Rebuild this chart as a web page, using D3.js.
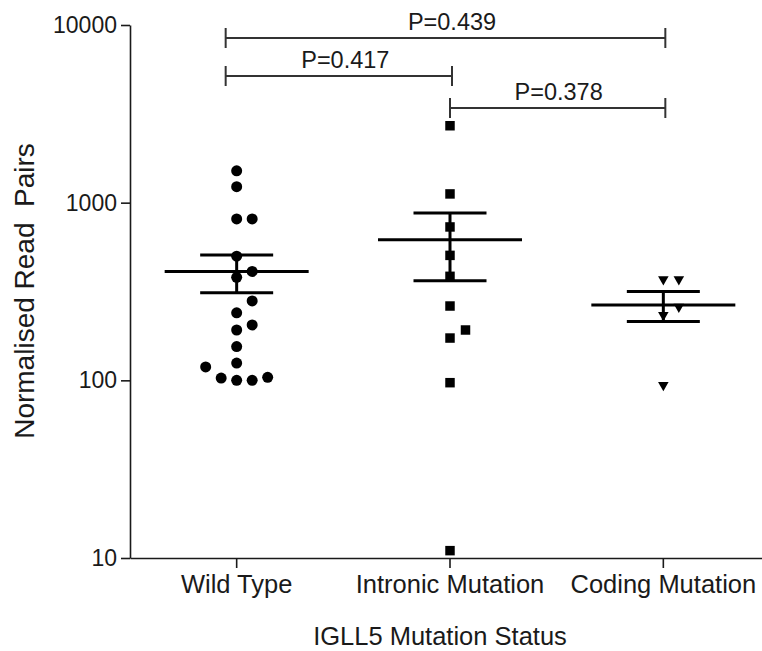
<!DOCTYPE html>
<html><head><meta charset="utf-8">
<script src="https://cdn.jsdelivr.net/npm/d3@7"></script>
<style>
html,body{margin:0;padding:0;background:#fff;}
svg{display:block;font-family:"Liberation Sans",Arial,Helvetica,sans-serif;}
</style></head><body>
<svg id="chart" width="762" height="651"></svg>
<script>
// ---- data ----
const categories = ["Wild Type", "Intronic Mutation", "Coding Mutation"];
const wildTypeValues = [1510, 1230, 810, 810, 500, 410, 380, 280, 240, 205, 192, 155, 125, 119, 103, 100, 100, 104];
const intronicValues = [2710, 1120, 730, 505, 385, 262, 192, 173, 97, 11];
const codingValues = [370, 370, 259, 233, 94];
const yTickValues = [10, 100, 1000, 10000];
const comparisonFrom = ["Wild Type", "Wild Type", "Intronic Mutation"];
const comparisonTo = ["Coding Mutation", "Intronic Mutation", "Coding Mutation"];
const comparisonLabels = ["P=0.439", "P=0.417", "P=0.378"];
const xTitle = "IGLL5 Mutation Status";
const yTitle = "Normalised Read  Pairs";

// ---- layout ----
const svg = d3.select("#chart");
const x = d3.scaleBand().domain(categories).range([130, 770]).padding(0);
const y = d3.scaleLog().domain([10, 10000]).range([558, 25]);
const cx = c => x(c) + x.bandwidth() / 2;

const series = [
  {cat: categories[0], values: wildTypeValues, symbol: d3.symbolCircle, size: 95, rot: 0},
  {cat: categories[1], values: intronicValues, symbol: d3.symbolSquare, size: 90, rot: 0},
  {cat: categories[2], values: codingValues, symbol: d3.symbolTriangle, size: 48, rot: 180}
];

// axes
const yAxis = svg.append("g").attr("transform", "translate(130,0)")
  .call(d3.axisLeft(y).tickValues(yTickValues).tickFormat(d3.format("d")).tickSize(9).tickSizeOuter(0).tickPadding(4));
yAxis.select(".domain").attr("stroke", "#1a1a1a").attr("stroke-width", 1.6);
yAxis.selectAll(".tick line").attr("stroke", "#1a1a1a").attr("stroke-width", 1.6);
yAxis.selectAll(".tick text").attr("font-size", 23).attr("fill", "#1a1a1a").attr("font-family", "Liberation Sans, Arial, sans-serif");

const xAxis = svg.append("g").attr("transform", "translate(0,558)")
  .call(d3.axisBottom(x).tickSize(10).tickSizeOuter(0).tickPadding(7));
xAxis.select(".domain").attr("stroke", "#1a1a1a").attr("stroke-width", 1.6);
xAxis.selectAll(".tick line").attr("stroke", "#1a1a1a").attr("stroke-width", 1.6);
xAxis.selectAll(".tick text").attr("font-size", 25.5).attr("fill", "#1a1a1a").attr("font-family", "Liberation Sans, Arial, sans-serif");

// titles
svg.append("text").attr("x", 440).attr("y", 645).attr("text-anchor", "middle")
  .attr("font-size", 25.5).attr("fill", "#1a1a1a").text(xTitle);
svg.append("text").attr("transform", "translate(34,291) rotate(-90)").attr("text-anchor", "middle")
  .style("white-space", "pre").attr("font-size", 28).attr("fill", "#1a1a1a").text(yTitle);

// swarm placement
function swarm(values, center, step, minDist) {
  const sorted = values.slice().sort((a, b) => a - b);
  const placed = [];
  const order = [0, 1, -1, 2, -2, 3, -3, 4, -4];
  sorted.forEach(v => {
    const py = y(v);
    for (const s of order) {
      const px = center + s * step;
      if (placed.every(q => Math.hypot(q.x - px, q.y - py) >= minDist)) {
        placed.push({v, x: px, y: py});
        break;
      }
    }
  });
  return placed;
}

// mean and SEM lines
series.forEach(s => {
  const c = cx(s.cat);
  const m = d3.mean(s.values);
  const sem = d3.deviation(s.values) / Math.sqrt(s.values.length);
  const g = svg.append("g").attr("stroke", "#000").attr("stroke-width", 3).attr("fill", "none");
  g.append("line").attr("x1", c - 72).attr("x2", c + 72).attr("y1", y(m)).attr("y2", y(m));
  g.append("line").attr("x1", c - 36.5).attr("x2", c + 36.5).attr("y1", y(m + sem)).attr("y2", y(m + sem));
  g.append("line").attr("x1", c - 36.5).attr("x2", c + 36.5).attr("y1", y(m - sem)).attr("y2", y(m - sem));
  g.append("line").attr("x1", c).attr("x2", c).attr("y1", y(m + sem)).attr("y2", y(m - sem));
});

// points
series.forEach(s => {
  const pts = swarm(s.values, cx(s.cat), 15.5, 14.5);
  svg.append("g").selectAll("path").data(pts).join("path")
    .attr("d", d3.symbol().type(s.symbol).size(s.size))
    .attr("transform", d => `translate(${d.x},${d.y}) rotate(${s.rot})`)
    .attr("fill", "#000");
});

// significance brackets
const bracketRows = [38, 76, 108];
const bracketNudge = {"Wild Type": -11};
comparisonLabels.forEach((lab, i) => {
  const a = cx(comparisonFrom[i]), b = cx(comparisonTo[i]);
  const x1 = a + (bracketNudge[comparisonFrom[i]] || 0);
  const x2 = b + 2;
  const yy = bracketRows[i];
  const g = svg.append("g").attr("stroke", "#333").attr("stroke-width", 2).attr("fill", "none");
  g.append("line").attr("x1", x1).attr("x2", x2).attr("y1", yy).attr("y2", yy);
  g.append("line").attr("x1", x1).attr("x2", x1).attr("y1", yy - 10).attr("y2", yy + 10);
  g.append("line").attr("x1", x2).attr("x2", x2).attr("y1", yy - 10).attr("y2", yy + 10);
  svg.append("text").attr("x", (a + b) / 2 + 2).attr("y", yy - 8.5).attr("text-anchor", "middle")
    .attr("font-size", 23.5).attr("fill", "#1a1a1a").text(lab);
});
</script>
</body></html>
